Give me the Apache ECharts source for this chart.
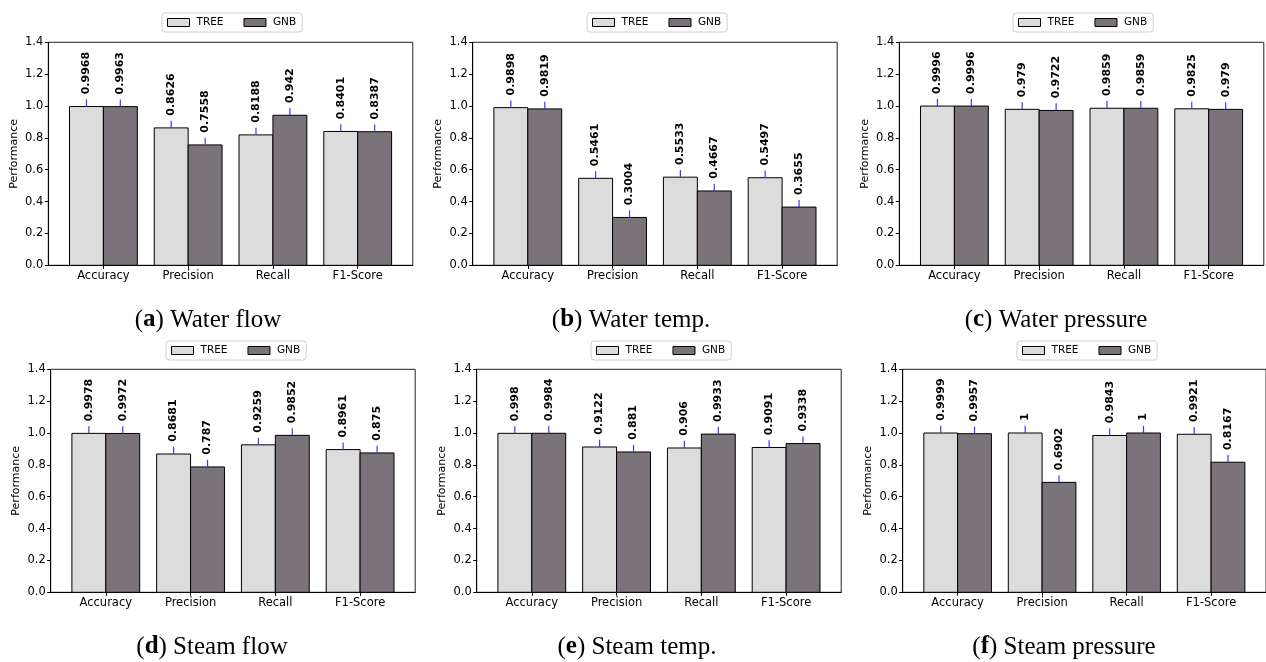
<!DOCTYPE html>
<html>
<head>
<meta charset="utf-8">
<script src="https://cdn.jsdelivr.net/npm/echarts@6/dist/echarts.min.js"></script>
<style>
  html, body { margin: 0; padding: 0; background: #fff; }
  #chart { width: 1266px; height: 662px; }
</style>
</head>
<body>
<div id="chart"></div>
<script>
// ---------------- data ----------------
const categories = ['Accuracy', 'Precision', 'Recall', 'F1-Score'];
const seriesNames = ['TREE', 'GNB'];

const treeWaterFlow     = [0.9968, 0.8626, 0.8188, 0.8401];
const gnbWaterFlow      = [0.9963, 0.7558, 0.942, 0.8387];
const treeWaterTemp     = [0.9898, 0.5461, 0.5533, 0.5497];
const gnbWaterTemp      = [0.9819, 0.3004, 0.4667, 0.3655];
const treeWaterPressure = [0.9996, 0.979, 0.9859, 0.9825];
const gnbWaterPressure  = [0.9996, 0.9722, 0.9859, 0.979];
const treeSteamFlow     = [0.9978, 0.8681, 0.9259, 0.8961];
const gnbSteamFlow      = [0.9972, 0.787, 0.9852, 0.875];
const treeSteamTemp     = [0.998, 0.9122, 0.906, 0.9091];
const gnbSteamTemp      = [0.9984, 0.881, 0.9933, 0.9338];
const treeSteamPressure = [0.9999, 1, 0.9843, 0.9921];
const gnbSteamPressure  = [0.9957, 0.6902, 1, 0.8167];

const panelLetters = ['a', 'b', 'c', 'd', 'e', 'f'];
const panelTitles = ['Water flow', 'Water temp.', 'Water pressure', 'Steam flow', 'Steam temp.', 'Steam pressure'];
const panelTree = [treeWaterFlow, treeWaterTemp, treeWaterPressure, treeSteamFlow, treeSteamTemp, treeSteamPressure];
const panelGnb  = [gnbWaterFlow, gnbWaterTemp, gnbWaterPressure, gnbSteamFlow, gnbSteamTemp, gnbSteamPressure];
const errLen = 0.045;   // upper error-bar length (value units)

// ---------------- layout (pixels) ----------------
const layout = [
  { left: 48.3,  top: 42.3,  legendLeft: 162,  legendTop: 13,  capX: 208,  capY: 320 },
  { left: 472.7, top: 42.3,  legendLeft: 587,  legendTop: 13,  capX: 631,  capY: 320 },
  { left: 899.3, top: 42.3,  legendLeft: 1013, legendTop: 13,  capX: 1056, capY: 320 },
  { left: 50.7,  top: 369.3, legendLeft: 166,  legendTop: 341, capX: 212,  capY: 647 },
  { left: 476.7, top: 369.3, legendLeft: 591,  legendTop: 341, capX: 637,  capY: 647 },
  { left: 902.7, top: 369.3, legendLeft: 1017, legendTop: 341, capX: 1064, capY: 647 }
];
const plotW = 364.5, plotH = 223;
const colors = { TREE: '#dcdcdc', GNB: '#7a747a' };
const barW = 0.4;
const sansFont = '"DejaVu Sans", sans-serif';

const chart = echarts.init(document.getElementById('chart'), null, { renderer: 'canvas' });

const grids = [], xAxes = [], yAxes = [], legends = [], series = [], graphics = [];

layout.forEach((L, k) => {
  grids.push({
    left: L.left, top: L.top, width: plotW, height: plotH,
    show: true, borderColor: '#222', borderWidth: 1, backgroundColor: '#fff'
  });
  xAxes.push({
    gridIndex: k, type: 'value', min: -0.65, max: 3.65,
    axisLine: { show: true, onZero: false, lineStyle: { color: '#000', width: 1 } },
    axisTick: { show: true, inside: false, length: 3.5, customValues: [0, 1, 2, 3], lineStyle: { color: '#000' } },
    axisLabel: {
      show: true, customValues: [0, 1, 2, 3], margin: 5,
      formatter: v => categories[Math.round(v)],
      color: '#000', fontSize: 11.5, fontFamily: sansFont
    },
    splitLine: { show: false }
  });
  yAxes.push({
    gridIndex: k, type: 'value', min: 0, max: 1.4, interval: 0.2,
    name: 'Performance', nameLocation: 'middle', nameGap: 29,
    nameTextStyle: { color: '#000', fontSize: 11, fontFamily: sansFont },
    axisLine: { show: true, onZero: false, lineStyle: { color: '#000', width: 1 } },
    axisTick: { show: true, inside: false, length: 3.5, lineStyle: { color: '#000' } },
    axisLabel: { margin: 5, color: '#000', fontSize: 11.5, fontFamily: sansFont, formatter: v => v.toFixed(1) },
    splitLine: { show: false }
  });
  legends.push({
    left: L.legendLeft, top: L.legendTop,
    data: seriesNames, icon: 'rect', itemWidth: 22, itemHeight: 8, itemGap: 20,
    backgroundColor: '#fff', borderColor: '#d0d0d0', borderWidth: 1, borderRadius: 3,
    padding: [4, 6, 4, 5],
    itemStyle: { borderColor: '#000', borderWidth: 1 },
    textStyle: { color: '#000', fontSize: 10.5, fontFamily: sansFont, padding: [0, 0, 0, 2] },
    selectedMode: false
  });

  [panelTree[k], panelGnb[k]].forEach((vals, s) => {
    const name = seriesNames[s];
    series.push({
      type: 'custom', name: name, xAxisIndex: k, yAxisIndex: k,
      itemStyle: { color: colors[name], borderColor: '#000', borderWidth: 1 },
      data: vals.map((v, i) => [i, v]),
      encode: { x: 0, y: 1 },
      renderItem: (params, api) => {
        const i = api.value(0), v = api.value(1);
        const x0 = i - barW + s * barW;
        const pTop = api.coord([x0, v]);
        const pBot = api.coord([x0 + barW, 0]);
        const cx = api.coord([x0 + barW / 2, 0])[0];
        const errTop = api.coord([i, v + errLen])[1];
        return {
          type: 'group',
          children: [
            { type: 'rect',
              shape: { x: pTop[0], y: pTop[1], width: pBot[0] - pTop[0], height: pBot[1] - pTop[1] },
              style: { fill: colors[name], stroke: '#000', lineWidth: 1 } },
            { type: 'line',
              shape: { x1: cx, y1: pTop[1], x2: cx, y2: errTop },
              style: { stroke: '#3a3aff', lineWidth: 1.2 } },
            { type: 'text', x: cx, y: errTop - 5, rotation: Math.PI / 2,
              style: { text: String(vals[params.dataIndex]), font: 'bold 11px "DejaVu Sans"',
                       fill: '#000', align: 'left', verticalAlign: 'middle' } }
          ]
        };
      }
    });
  });

  graphics.push({
    type: 'text', x: L.capX, y: L.capY,
    style: {
      text: '({b|' + panelLetters[k] + '}) ' + panelTitles[k],
      font: '25px "Liberation Serif", serif',
      fill: '#000', align: 'center', verticalAlign: 'middle',
      rich: { b: { fontWeight: 'bold', fontSize: 25, fontFamily: '"Liberation Serif", serif', fill: '#000' } }
    }
  });
});

chart.setOption({
  animation: false,
  backgroundColor: '#fff',
  grid: grids, xAxis: xAxes, yAxis: yAxes, legend: legends, series: series,
  graphic: graphics
});
</script>
</body>
</html>
